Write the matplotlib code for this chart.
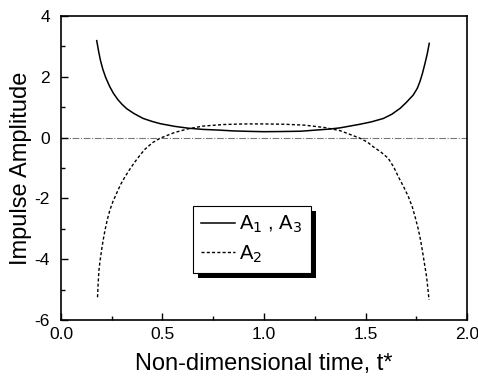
import matplotlib
matplotlib.use("Agg")
import matplotlib.pyplot as plt
from matplotlib.patches import Rectangle
from matplotlib.ticker import MultipleLocator, FormatStrFormatter

plt.rcParams['font.family'] = ['Liberation Sans', 'DejaVu Sans']
plt.rcParams['axes.unicode_minus'] = False

# A1, A3 curve
t_a1 = [0.176, 0.185, 0.194, 0.206, 0.220, 0.240, 0.258, 0.280, 0.300, 0.324,
        0.360, 0.405, 0.450, 0.488, 0.560, 0.627, 0.700, 0.770, 0.850, 0.930,
        1.000, 1.080, 1.180, 1.260, 1.320, 1.374, 1.473, 1.530, 1.588, 1.630,
        1.670, 1.700, 1.735, 1.755, 1.768, 1.780, 1.793, 1.804, 1.814]
y_a1 = [3.19, 2.85, 2.55, 2.25, 1.98, 1.68, 1.46, 1.25, 1.10, 0.95,
        0.79, 0.63, 0.53, 0.46, 0.37, 0.31, 0.27, 0.25, 0.22, 0.205,
        0.195, 0.20, 0.21, 0.25, 0.28, 0.32, 0.44, 0.52, 0.63, 0.77,
        0.96, 1.15, 1.40, 1.62, 1.84, 2.10, 2.44, 2.75, 3.10]

# A2 curve
t_a2 = [0.180, 0.183, 0.187, 0.193, 0.200, 0.208, 0.217, 0.228, 0.241, 0.256,
        0.274, 0.293, 0.315, 0.340, 0.365, 0.390, 0.414, 0.450, 0.488, 0.560,
        0.627, 0.700, 0.800, 0.900, 1.000, 1.100, 1.200, 1.300, 1.374, 1.473,
        1.510, 1.538, 1.575, 1.612, 1.640, 1.662, 1.688, 1.711, 1.730, 1.744,
        1.757, 1.768, 1.777, 1.785, 1.793, 1.801, 1.807, 1.813]
y_a2 = [-5.25, -4.80, -4.36, -4.02, -3.70, -3.36, -3.04, -2.70, -2.38, -2.10,
        -1.83, -1.55, -1.29, -1.03, -0.79, -0.57, -0.38, -0.17, -0.02, 0.17,
        0.29, 0.38, 0.43, 0.45, 0.45, 0.44, 0.41, 0.33, 0.23, -0.02,
        -0.15, -0.30, -0.47, -0.68, -0.98, -1.29, -1.62, -1.94, -2.27, -2.60,
        -2.93, -3.26, -3.59, -3.92, -4.25, -4.58, -4.95, -5.34]

zero_t = [0.0, 2.0]
zero_y = [0.0, 0.0]

fig = plt.figure(figsize=(4.78, 3.81), dpi=100)
ax = fig.add_axes([0.1276, 0.160, 0.8494, 0.798])

ax.plot(zero_t, zero_y, color='#777777', lw=0.8, ls=(0, (6, 1.5, 1, 1.5)), zorder=1)
l1, = ax.plot(t_a1, y_a1, color='black', lw=1.1, ls='-', label='A$_1$ , A$_3$', zorder=3)
l2, = ax.plot(t_a2, y_a2, color='black', lw=1.0, ls=(0, (2.2, 1.6)), label='A$_2$', zorder=3)

ax.set_xlim(0, 2.0)
ax.set_ylim(-6, 4)
ax.xaxis.set_major_locator(MultipleLocator(0.5))
ax.xaxis.set_minor_locator(MultipleLocator(0.25))
ax.yaxis.set_major_locator(MultipleLocator(2))
ax.yaxis.set_minor_locator(MultipleLocator(1))
ax.xaxis.set_major_formatter(FormatStrFormatter('%.1f'))
ax.tick_params(which='both', direction='in', top=False, right=False, labelsize=12.5)
ax.tick_params(which='major', length=5, width=1.0)
ax.tick_params(which='minor', length=3, width=1.0)
ax.tick_params(axis='x', pad=5)
ax.tick_params(axis='y', pad=8)
for s in ax.spines.values():
    s.set_linewidth(1.2)

ax.set_xlabel('Non-dimensional time, t*', fontsize=17, labelpad=8)
ax.set_ylabel('Impulse Amplitude', fontsize=17, labelpad=2)

leg = ax.legend(handles=[l1, l2], loc='upper left', bbox_to_anchor=(0.325, 0.375),
                borderaxespad=0, fancybox=False, frameon=True, fontsize=14.5,
                handlelength=1.7, handletextpad=0.2, borderpad=0.4,
                labelspacing=0.4, framealpha=1.0)
leg.get_frame().set_edgecolor('black')
leg.get_frame().set_linewidth(0.8)
leg.get_frame().set_facecolor('white')

fig.canvas.draw()
bb = leg.get_window_extent()
off = 5
shadow = Rectangle((bb.x0 + off, bb.y0 - off), bb.width, bb.height,
                   transform=None, facecolor='black', edgecolor='none', zorder=4.5)
ax.add_artist(shadow)

fig.savefig('out.png', dpi=100)
